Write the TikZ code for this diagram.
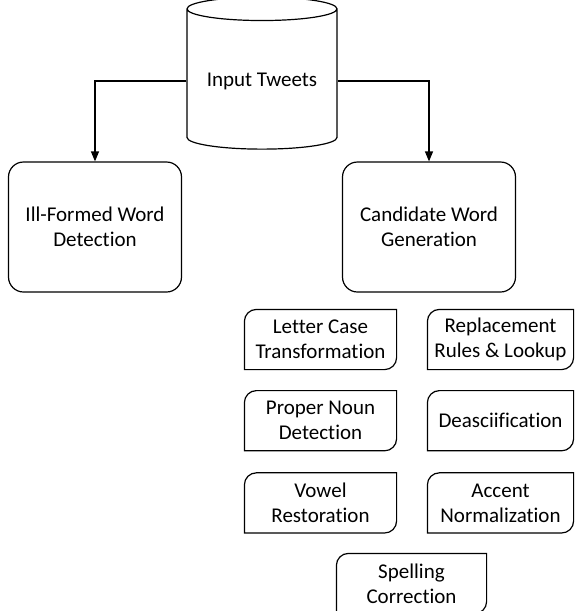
\documentclass[tikz,border=0pt]{standalone}
\usepackage{fontspec}
\setmainfont{Carlito}[Ligatures=NoCommon]
\usetikzlibrary{arrows.meta, positioning, shapes.geometric}
\tikzset{>={Triangle[length=10pt,width=8pt]},
    every node/.style={font=\fontsize{21}{25}\selectfont, align=center},
    db/.style={cylinder, shape border rotate=90, draw, aspect=0.2,
        minimum width=150pt, minimum height=152pt},
    process/.style={rectangle, rounded corners=15pt, draw,
        minimum width=173pt, minimum height=130pt},
    method/.style={rectangle, inner sep=0pt, minimum height=59pt,
        append after command={\pgfextra{\draw
            ([yshift=-12pt]\tikzlastnode.north west)
            arc[start angle=180, end angle=90, radius=12pt]
            -- (\tikzlastnode.north east)
            -- ([yshift=12pt]\tikzlastnode.south east)
            arc[start angle=0, end angle=-90, radius=12pt]
            -- (\tikzlastnode.south west) -- cycle;}}},
    wide/.style={minimum width=151pt},
    narrow/.style={minimum width=145pt}}
\begin{document}
\begin{tikzpicture}[x=1pt, y=1pt, line width=1.2pt]
\useasboundingbox (0,0) rectangle (574,-611);
\clip (0,0) rectangle (574,-611);

\node[db]      (tweets)     at (262,-81)  {Input Tweets};
\node[process] (illformed)  at (95,-227)  {Ill-Formed Word\\Detection};
\node[process] (candidate)  at (429,-227) {Candidate Word\\Generation};

% generation methods
\node[method, wide]   (lettercase)  at (320.5,-339.5) {Letter Case\\Transformation};
\node[method, wide]   (propernoun)  [below=21pt of lettercase] {Proper Noun\\Detection};
\node[method, wide]   (vowel)       [below=22pt of propernoun] {Vowel\\Restoration};
\node[method, narrow] (replacement) at (500.5,-339.5) {Replacement\\Rules \& Lookup};
\node[method, narrow] (deasciify)   [below=21pt of replacement] {Deasciification};
\node[method, narrow] (accent)      [below=22pt of deasciify] {Accent\\Normalization};
\node[method, minimum width=149pt] (spelling) at (411.5,-583.5) {Spelling\\Correction};

\draw[->] (tweets.west) -| (illformed.north);
\draw[->] (tweets.east) -| (candidate.north);
\end{tikzpicture}
\end{document}
